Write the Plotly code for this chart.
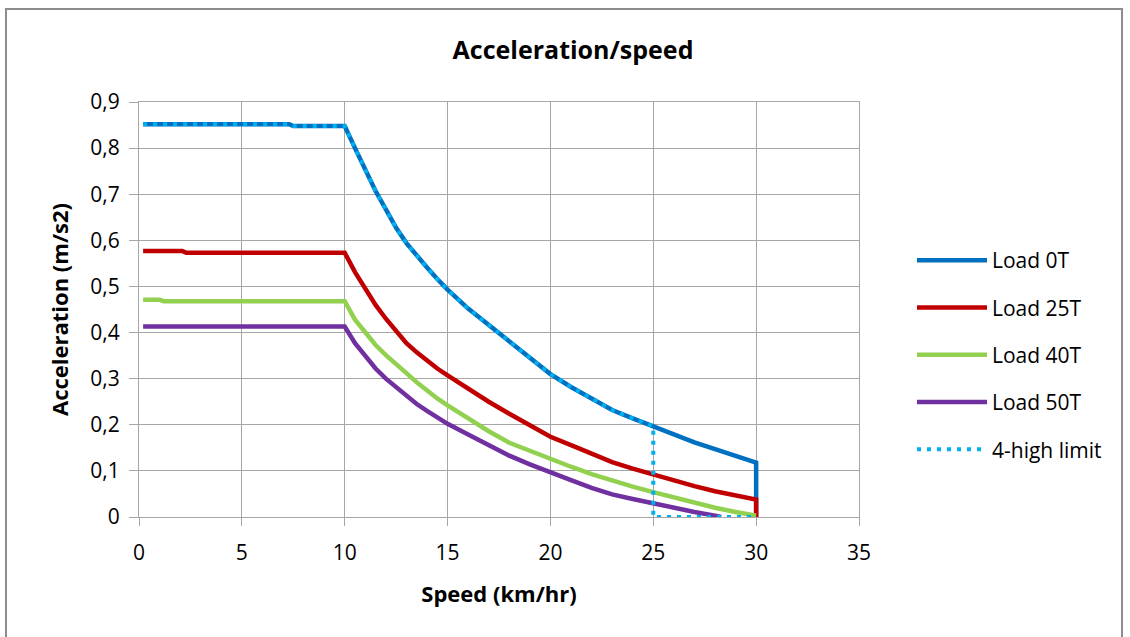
import plotly.graph_objects as go

# ---- data ----
speed_0T = [0.2, 7.3, 7.5, 10, 10.5, 11, 11.5, 12, 12.5, 13, 13.5, 14, 14.5, 15, 16, 17,
            18, 19, 20, 21, 22, 23, 24, 25, 26, 27, 28, 29, 30, 30]
acc_0T = [0.852, 0.852, 0.848, 0.848, 0.80, 0.752, 0.707, 0.667, 0.627, 0.594, 0.566,
          0.541, 0.516, 0.493, 0.452, 0.416, 0.381, 0.345, 0.31, 0.282, 0.256, 0.232,
          0.214, 0.197, 0.178, 0.162, 0.147, 0.133, 0.118, 0.0]

speed_25T = [0.2, 2.1, 2.3, 10, 10.5, 11, 11.5, 12, 12.5, 13, 13.5, 14, 14.5, 15, 16, 17,
             18, 19, 20, 21, 22, 23, 24, 25, 26, 27, 28, 29, 30, 30]
acc_25T = [0.577, 0.577, 0.573, 0.573, 0.531, 0.494, 0.46, 0.43, 0.402, 0.377, 0.357,
           0.339, 0.322, 0.307, 0.278, 0.25, 0.224, 0.198, 0.174, 0.156, 0.138, 0.119,
           0.105, 0.092, 0.079, 0.067, 0.056, 0.047, 0.038, 0.0]

speed_40T = [0.2, 1.0, 1.2, 10, 10.5, 11, 11.5, 12, 12.5, 13, 13.5, 14, 14.5, 15, 16, 17,
             18, 19, 20, 21, 22, 23, 24, 25, 26, 27, 28, 29, 30]
acc_40T = [0.471, 0.471, 0.468, 0.468, 0.428, 0.399, 0.373, 0.351, 0.33, 0.312, 0.292,
           0.274, 0.257, 0.242, 0.213, 0.186, 0.161, 0.143, 0.125, 0.109, 0.093, 0.079,
           0.066, 0.054, 0.042, 0.031, 0.02, 0.011, 0.003]

speed_50T = [0.2, 10, 10.5, 11, 11.5, 12, 12.5, 13, 13.5, 14, 14.5, 15, 16, 17, 18, 19,
             20, 21, 22, 23, 24, 25, 26, 27, 28, 28.3]
acc_50T = [0.413, 0.413, 0.377, 0.348, 0.322, 0.3, 0.281, 0.263, 0.245, 0.23, 0.215,
           0.202, 0.179, 0.155, 0.133, 0.114, 0.098, 0.08, 0.063, 0.049, 0.039, 0.029,
           0.02, 0.011, 0.003, 0.0]

speed_limit = [0.2, 7.3, 7.5, 10, 10.5, 11, 11.5, 12, 12.5, 13, 13.5, 14, 14.5, 15, 16,
               17, 18, 19, 20, 21, 22, 23, 24, 25, 25, 30]
acc_limit = [0.852, 0.852, 0.848, 0.848, 0.80, 0.752, 0.707, 0.667, 0.627, 0.594, 0.566,
             0.541, 0.516, 0.493, 0.452, 0.416, 0.381, 0.345, 0.31, 0.282, 0.256, 0.232,
             0.214, 0.197, 0.0, 0.0]

series_names = ["Load 0T", "Load 25T", "Load 40T", "Load 50T", "4-high limit"]
series_colors = ["#0070C0", "#C00000", "#92D050", "#7030A0", "#00B0F0"]

x_tickvals = [0, 5, 10, 15, 20, 25, 30, 35]
x_ticktext = ["0", "5", "10", "15", "20", "25", "30", "35"]
y_tickvals = [0, 0.1, 0.2, 0.3, 0.4, 0.5, 0.6, 0.7, 0.8, 0.9]
y_ticktext = ["0", "0,1", "0,2", "0,3", "0,4", "0,5", "0,6", "0,7", "0,8", "0,9"]

FONT = "Open Sans"
GRID = "#A6A6A6"

fig = go.Figure()
data = [(speed_0T, acc_0T), (speed_25T, acc_25T), (speed_40T, acc_40T),
        (speed_50T, acc_50T), (speed_limit, acc_limit)]
for i, ((xs, ys), name, col) in enumerate(zip(data, series_names, series_colors)):
    fig.add_trace(go.Scatter(
        x=xs, y=ys, mode="lines", name=name, legendgroup=name,
        line=dict(color=col, width=4.5 if i < 4 else 4,
                  dash="solid" if i < 4 else "4px,6px"),
        hoverinfo="skip",
    ))

# plot area in page pixels: left 139, right 859, top 102, bottom 517
L, R, T, B = 139, 859, 102, 517
W, H = 1130, 637
pw, ph = R - L, B - T

fig.update_layout(
    width=W, height=H, autosize=False,
    margin=dict(l=L, r=W - R, t=T, b=H - B, pad=0),
    paper_bgcolor="white", plot_bgcolor="white",
    font=dict(family=FONT, color="#000000", size=21),
    title=dict(text="<b>Acceleration/speed</b>", x=573 / W, xanchor="center",
               y=1 - 50 / H, yanchor="middle", font=dict(size=25, family=FONT)),
    showlegend=True,
    legend=dict(x=(912 - L) / pw, xanchor="left", y=(B - 240) / ph, yanchor="top",
                font=dict(size=21, family=FONT), tracegroupgap=17,
                bgcolor="rgba(0,0,0,0)", itemwidth=70),
    xaxis=dict(range=[0, 35], tickvals=x_tickvals, ticktext=x_ticktext,
               showgrid=True, gridcolor=GRID, gridwidth=1.3,
               showline=True, linecolor=GRID, linewidth=1.3, mirror=True,
               ticks="outside", ticklen=8, tickcolor=GRID, tickwidth=1.3,
               ticklabelstandoff=9,
               zeroline=False, tickfont=dict(size=21),
               title=dict(text="<b>Speed (km/hr)</b>", font=dict(size=22), standoff=21)),
    yaxis=dict(range=[0, 0.9], tickvals=y_tickvals, ticktext=y_ticktext,
               showgrid=True, gridcolor=GRID, gridwidth=1.3,
               showline=True, linecolor=GRID, linewidth=1.3, mirror=True,
               ticks="outside", ticklen=9, tickcolor=GRID, tickwidth=1.3,
               ticklabelstandoff=5,
               zeroline=False, tickfont=dict(size=21),
               title=dict(text="<b>Acceleration (m/s2)</b>", font=dict(size=22), standoff=15)),
)

# chart-area border (Excel style)
fig.add_shape(type="rect", xref="paper", yref="paper", layer="below",
              x0=(6 - L) / pw, x1=(1122 - L) / pw, y0=(B - 645) / ph, y1=(B - 9) / ph,
              line=dict(color="#8C8C8C", width=2), fillcolor="rgba(0,0,0,0)")

fig.write_html("out.html", config={"displayModeBar": False},
               post_script="document.body.style.margin='0';")
